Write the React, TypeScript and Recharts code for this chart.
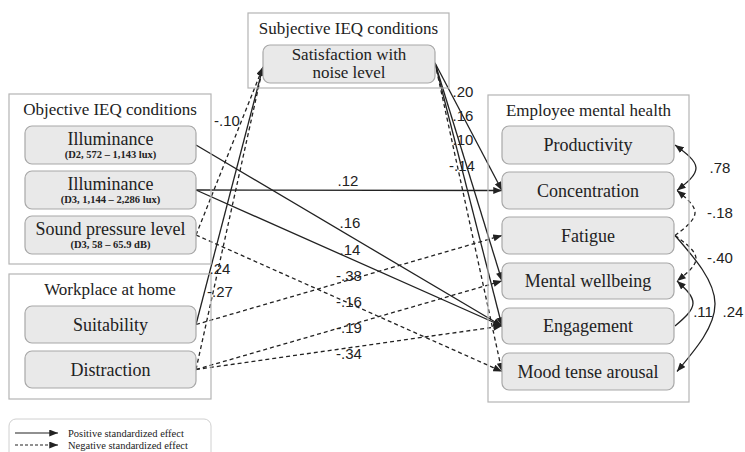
import React from 'react';
import { ComposedChart, XAxis, YAxis, Line, Scatter } from 'recharts';

// model structure
const groupTitles = ['Subjective IEQ conditions', 'Objective IEQ conditions', 'Workplace at home', 'Employee mental health'];
const groupIds = ['gSub', 'gObj', 'gHome', 'gEmp'];

const predictorIds = ['d2', 'd3', 'sound', 'suit', 'dist'];
const predictorNames = ['Illuminance', 'Illuminance', 'Sound pressure level', 'Suitability', 'Distraction'];
const predictorNotes = ['(D2, 572 – 1,143 lux)', '(D3, 1,144 – 2,286 lux)', '(D3, 58 – 65.9 dB)', '', ''];

const mediatorIds = ['sat'];
const mediatorNames = ['Satisfaction with|noise level'];

const outcomeIds = ['prod', 'conc', 'fat', 'mw', 'eng', 'mood'];
const outcomeNames = ['Productivity', 'Concentration', 'Fatigue', 'Mental wellbeing', 'Engagement', 'Mood tense arousal'];

// standardized path effects
const pathFrom = ['sound', 'suit', 'dist', 'd2', 'd3', 'd3', 'sound', 'suit', 'dist', 'dist', 'sat', 'sat', 'sat', 'sat'];
const pathTo = ['sat', 'sat', 'sat', 'eng', 'conc', 'eng', 'mood', 'fat', 'mw', 'eng', 'conc', 'mw', 'eng', 'mood'];
const pathBeta = [-0.1, 0.24, -0.27, 0.16, 0.12, 0.14, -0.16, -0.38, -0.19, -0.34, 0.2, 0.16, 0.1, -0.14];

// residual covariances between outcomes
const covFrom = ['prod', 'fat', 'fat', 'eng', 'fat'];
const covTo = ['conc', 'conc', 'mw', 'mw', 'mood'];
const covR = [0.78, -0.18, -0.4, 0.11, 0.24];

const legendLabels = ['Positive standardized effect', 'Negative standardized effect'];

// ---- layout (axes run 0..745 and 0..452, so one unit = one pixel) ----
const W = 745;
const H = 452;
const ink = '#222';
const serif = '"Liberation Serif", "DejaVu Serif", serif';
const sans = '"Liberation Sans", Arial, sans-serif';

type Box = { x: number; y: number; w: number; h: number };
const boxes: Record<string, Box> = {
  gSub: { x: 248, y: 13, w: 201, h: 75 },
  gObj: { x: 9, y: 94, w: 202, h: 170 },
  gHome: { x: 9, y: 274, w: 202, h: 125 },
  gEmp: { x: 488, y: 95, w: 201, h: 307 },
  sat: { x: 263, y: 45, w: 172, h: 38 },
  d2: { x: 25, y: 126, w: 171, h: 38 },
  d3: { x: 25, y: 171, w: 171, h: 38 },
  sound: { x: 25, y: 216, w: 171, h: 38 },
  suit: { x: 25, y: 306, w: 171, h: 37 },
  dist: { x: 25, y: 351, w: 171, h: 37 },
  prod: { x: 502, y: 126, w: 172, h: 38 },
  conc: { x: 502, y: 172, w: 172, h: 37 },
  fat: { x: 502, y: 217, w: 172, h: 37 },
  mw: { x: 502, y: 263, w: 172, h: 36 },
  eng: { x: 502, y: 308, w: 172, h: 36 },
  mood: { x: 502, y: 353, w: 172, h: 37 },
};
const legendBox: Box = { x: 9, y: 419, w: 202, h: 44 };

// special anchors on the mediator box
const outAnchor: Record<string, [number, number]> = { sat: [435, 63] };
const inAnchor: Record<string, [number, number]> = { sat: [263, 67] };

const pathLabelPos: [number, number][] = [
  [227, 126], [220, 274], [220, 297], [350, 228], [348, 186], [350, 255], [349, 307],
  [349, 281], [349, 333], [349, 359], [463, 97], [463, 121], [463, 145], [462, 171],
];
const covLabelPos: [number, number][] = [[720, 173], [720, 218], [720, 263], [703, 317], [733, 317]];
const covBulge = [22, 21, 22, 19, 41];

const fmt = (v: number) => (v < 0 ? '-' : '') + Math.abs(v).toFixed(2).replace(/^0/, '');

const outPoint = (id: string) => {
  if (outAnchor[id]) return { x: outAnchor[id][0], y: outAnchor[id][1] };
  const b = boxes[id];
  return { x: b.x + b.w, y: b.y + b.h / 2 };
};
const inPoint = (id: string) => {
  if (inAnchor[id]) return { x: inAnchor[id][0], y: inAnchor[id][1] };
  const b = boxes[id];
  return { x: b.x, y: b.y + b.h / 2 };
};

// node table for the scatter layers
const nodeRows = [
  ...groupIds.map((id, i) => ({ id, kind: 'group', title: groupTitles[i], note: '' })),
  ...mediatorIds.map((id, i) => ({ id, kind: 'node', title: mediatorNames[i], note: '' })),
  ...predictorIds.map((id, i) => ({ id, kind: 'node', title: predictorNames[i], note: predictorNotes[i] })),
  ...outcomeIds.map((id, i) => ({ id, kind: 'node', title: outcomeNames[i], note: '' })),
].map((n) => ({ ...n, x: boxes[n.id].x + boxes[n.id].w / 2, y: boxes[n.id].y + boxes[n.id].h / 2 }));

const labelRows = [
  ...pathBeta.map((v, i) => ({ x: pathLabelPos[i][0], y: pathLabelPos[i][1], text: fmt(v) })),
  ...covR.map((v, i) => ({ x: covLabelPos[i][0], y: covLabelPos[i][1], text: fmt(v) })),
];

const pathLines = pathBeta.map((v, i) => ({ beta: v, data: [outPoint(pathFrom[i]), inPoint(pathTo[i])] }));

const covLines = covR.map((v, i) => {
  const a = boxes[covFrom[i]];
  const b = boxes[covTo[i]];
  const ya = a.y + a.h / 2;
  const yb = b.y + b.h / 2;
  const xr = Math.max(a.x + a.w, b.x + b.w);
  return {
    r: v,
    both: i === 0,
    data: [
      { x: xr + 1, y: ya },
      { x: xr + covBulge[i], y: (ya + yb) / 2 },
      { x: xr + 3, y: yb },
    ],
  };
});

const legendRows = legendLabels.map((t, i) => ({ x: legendBox.x + 59, y: legendBox.y + 18 + i * 12, text: t }));
const legendLines = legendLabels.map((_, i) => ({
  dashed: i === 1,
  data: [
    { x: legendBox.x + 6, y: legendBox.y + 14 + i * 12 },
    { x: legendBox.x + 49, y: legendBox.y + 14 + i * 12 },
  ],
}));

const NodeShape = (p: any) => {
  const n = p.payload;
  const b = boxes[n.id];
  const left = p.cx - b.w / 2;
  const top = p.cy - b.h / 2;
  if (n.kind === 'group') {
    return (
      <g>
        <rect x={left} y={top} width={b.w} height={b.h} fill="none" stroke="#b4b4b4" strokeWidth={1.2} />
        <text x={p.cx} y={top + 21} textAnchor="middle" fontFamily={serif} fontSize={17} fill={ink}>
          {n.title}
        </text>
      </g>
    );
  }
  const lines = n.title.split('|');
  return (
    <g>
      <rect x={left} y={top} width={b.w} height={b.h} rx={7} ry={7} fill="#e9e9e9" stroke="#a8a8a8" strokeWidth={1.2} />
      {n.note ? (
        <>
          <text x={p.cx} y={top + 19} textAnchor="middle" fontFamily={serif} fontSize={18} fill={ink}>
            {n.title}
          </text>
          <text x={p.cx} y={top + 32} textAnchor="middle" fontFamily={serif} fontSize={10.5} fontWeight="bold" fill={ink}>
            {n.note}
          </text>
        </>
      ) : lines.length > 1 ? (
        lines.map((l: string, k: number) => (
          <text key={k} x={p.cx} y={top + 15 + k * 18} textAnchor="middle" fontFamily={serif} fontSize={17} fill={ink}>
            {l}
          </text>
        ))
      ) : (
        <text x={p.cx} y={p.cy + 6} textAnchor="middle" fontFamily={serif} fontSize={18} fill={ink}>
          {n.title}
        </text>
      )}
    </g>
  );
};

const LabelShape = (p: any) => (
  <text x={p.cx} y={p.cy} textAnchor="middle" fontFamily={sans} fontSize={15} fill={ink}>
    {p.payload.text}
  </text>
);

const LegendText = (p: any) => (
  <text x={p.cx} y={p.cy} fontFamily={serif} fontSize={10.5} fill={ink}>
    {p.payload.text}
  </text>
);

const LegendFrame = (p: any) => (
  <rect x={p.cx - legendBox.w / 2} y={p.cy - legendBox.h / 2} width={legendBox.w} height={legendBox.h} rx={7} ry={7} fill="none" stroke="#d0d0d0" strokeWidth={1} />
);

export default function App() {
  return (
    <div style={{ position: 'absolute', left: 0, top: 0, width: W, height: H, background: '#fff' }}>
      <svg width={0} height={0} style={{ position: 'absolute' }}>
        <defs>
          <marker id="arrowHead" viewBox="0 0 10 8" refX={10} refY={4} markerWidth={9} markerHeight={7} markerUnits="userSpaceOnUse" orient="auto-start-reverse">
            <path d="M0,0 L10,4 L0,8 z" fill={ink} />
          </marker>
        </defs>
      </svg>
      <ComposedChart width={W} height={H} margin={{ top: 0, right: 0, bottom: 0, left: 0 }}>
        <XAxis type="number" dataKey="x" domain={[0, W]} allowDataOverflow hide />
        <YAxis type="number" dataKey="y" domain={[0, H]} reversed allowDataOverflow hide />
        <Scatter data={nodeRows} shape={NodeShape} isAnimationActive={false} />
        <Scatter data={[{ x: legendBox.x + legendBox.w / 2, y: legendBox.y + legendBox.h / 2 }]} shape={LegendFrame} isAnimationActive={false} />
        {pathLines.map((l, i) => (
          <Line
            key={'p' + i}
            data={l.data}
            dataKey="y"
            type="linear"
            stroke={ink}
            strokeWidth={1.3}
            strokeDasharray={l.beta < 0 ? '4 3' : undefined}
            markerEnd="url(#arrowHead)"
            dot={false}
            activeDot={false}
            isAnimationActive={false}
          />
        ))}
        {covLines.map((l, i) => (
          <Line
            key={'c' + i}
            data={l.data}
            dataKey="y"
            type="natural"
            stroke={ink}
            strokeWidth={1.3}
            strokeDasharray={l.r < 0 ? '4 3' : undefined}
            markerEnd="url(#arrowHead)"
            markerStart={l.both ? 'url(#arrowHead)' : undefined}
            dot={false}
            activeDot={false}
            isAnimationActive={false}
          />
        ))}
        {legendLines.map((l, i) => (
          <Line
            key={'l' + i}
            data={l.data}
            dataKey="y"
            type="linear"
            stroke={ink}
            strokeWidth={1.2}
            strokeDasharray={l.dashed ? '3 2' : undefined}
            markerEnd="url(#arrowHead)"
            dot={false}
            activeDot={false}
            isAnimationActive={false}
          />
        ))}
        <Scatter data={labelRows} shape={LabelShape} isAnimationActive={false} />
        <Scatter data={legendRows} shape={LegendText} isAnimationActive={false} />
      </ComposedChart>
    </div>
  );
}
